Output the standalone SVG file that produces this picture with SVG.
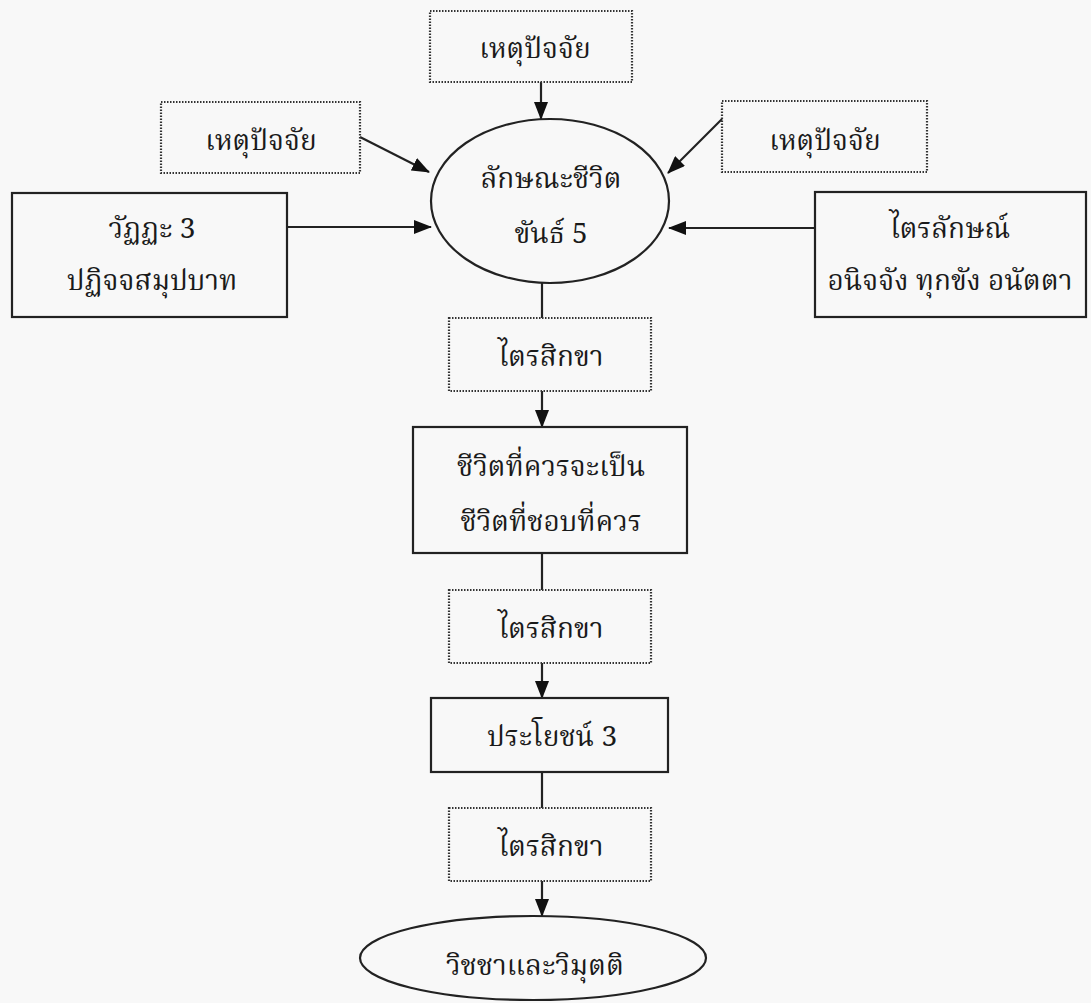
<svg xmlns="http://www.w3.org/2000/svg" width="1091" height="1003" viewBox="0 0 1091 1003">
<style>
text{font-family:"Noto Serif Thai","Noto Sans Thai","Loma","Garuda","DejaVu Sans",sans-serif;font-size:28px;fill:#1a1a1a;text-anchor:middle}
.solid{fill:none;stroke:#222;stroke-width:2.2}
.dot{fill:none;stroke:#333;stroke-width:2.2;stroke-dasharray:1.5 1.5}
.conn{fill:none;stroke:#222;stroke-width:2.2}
</style>
<defs>
<marker id="ah" markerUnits="userSpaceOnUse" markerWidth="18" markerHeight="14" refX="17" refY="7" orient="auto">
<path d="M0,0 L18,7 L0,14 Z" fill="#111"/>
</marker>
</defs>
<rect width="1091" height="1003" fill="#f8f8f8"/>
<g id="connectors">
<line class="conn" x1="541" y1="82" x2="541" y2="119" marker-end="url(#ah)"/>
<line class="conn" x1="360" y1="137" x2="429" y2="172" marker-end="url(#ah)"/>
<line class="conn" x1="722" y1="119" x2="668" y2="173" marker-end="url(#ah)"/>
<line class="conn" x1="287" y1="227" x2="431" y2="227" marker-end="url(#ah)"/>
<line class="conn" x1="815" y1="228" x2="669" y2="228" marker-end="url(#ah)"/>
<line class="conn" x1="542" y1="283" x2="542" y2="318"/>
<line class="conn" x1="542" y1="391" x2="542" y2="427" marker-end="url(#ah)"/>
<line class="conn" x1="542" y1="553" x2="542" y2="590"/>
<line class="conn" x1="542" y1="663" x2="542" y2="698" marker-end="url(#ah)"/>
<line class="conn" x1="542" y1="772" x2="542" y2="808"/>
<line class="conn" x1="542" y1="881" x2="542" y2="916" marker-end="url(#ah)"/>
</g>
<g id="cause-top">
<rect class="dot" x="430" y="11" width="202" height="71"/>
<text x="535" y="58">เหตุปัจจัย</text>
</g>
<g id="cause-left">
<rect class="dot" x="161" y="102" width="199" height="71"/>
<text x="261" y="150">เหตุปัจจัย</text>
</g>
<g id="cause-right">
<rect class="dot" x="722" y="101" width="205" height="71"/>
<text x="825" y="150">เหตุปัจจัย</text>
</g>
<g id="vatta">
<rect class="solid" x="12" y="193" width="275" height="124"/>
<text x="152" y="238">วัฏฏะ 3</text>
<text x="152" y="290">ปฏิจจสมุปบาท</text>
</g>
<g id="trilakkhana">
<rect class="solid" x="815" y="192" width="271" height="125"/>
<text x="950" y="238">ไตรลักษณ์</text>
<text x="950" y="290">อนิจจัง ทุกขัง อนัตตา</text>
</g>
<g id="life">
<ellipse class="solid" cx="550" cy="201" rx="119" ry="82"/>
<text x="551" y="188">ลักษณะชีวิต</text>
<text x="551" y="243">ขันธ์ 5</text>
</g>
<g id="sikkha1">
<rect class="dot" x="449" y="318" width="202" height="73"/>
<text x="551" y="366">ไตรสิกขา</text>
</g>
<g id="ideal-life">
<rect class="solid" x="413" y="427" width="274" height="126"/>
<text x="551" y="476">ชีวิตที่ควรจะเป็น</text>
<text x="551" y="531">ชีวิตที่ชอบที่ควร</text>
</g>
<g id="sikkha2">
<rect class="dot" x="449" y="590" width="202" height="73"/>
<text x="551" y="638">ไตรสิกขา</text>
</g>
<g id="benefit">
<rect class="solid" x="431" y="698" width="237" height="74"/>
<text x="552" y="746">ประโยชน์ 3</text>
</g>
<g id="sikkha3">
<rect class="dot" x="449" y="808" width="202" height="73"/>
<text x="551" y="856">ไตรสิกขา</text>
</g>
<g id="liberation">
<ellipse class="solid" cx="533" cy="958" rx="173" ry="42"/>
<text x="535" y="975">วิชชาและวิมุตติ</text>
</g>
</svg>
